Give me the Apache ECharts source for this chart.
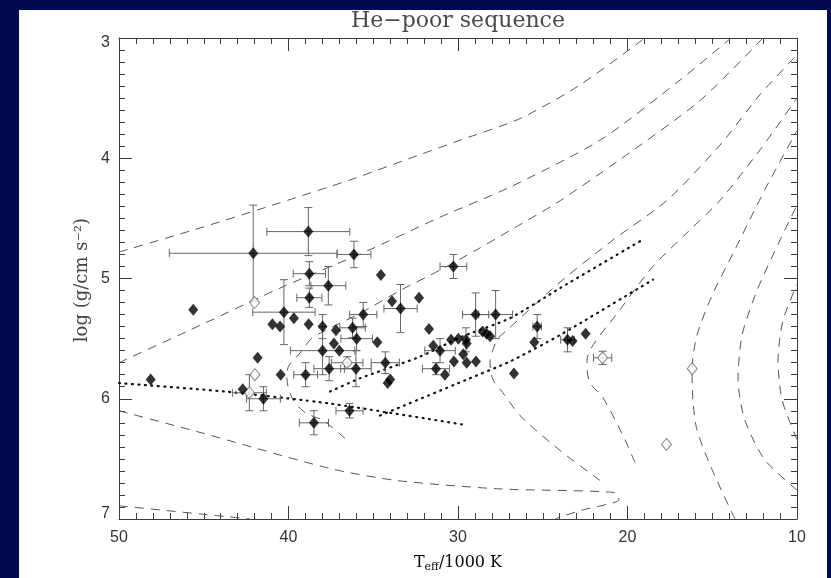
<!DOCTYPE html>
<html>
<head>
<meta charset="utf-8">
<script src="https://cdn.jsdelivr.net/npm/echarts@6/dist/echarts.min.js"></script>
<style>
html,body{margin:0;padding:0;background:#010a4e;width:831px;height:578px;overflow:hidden;}
#chart{position:absolute;left:19px;top:10px;width:808px;height:568px;background:#ffffff;}
</style>
</head>
<body>
<div id="chart"></div>
<script>
// ---- axis ranges / ticks ----
const xRange = [10, 50];          // Teff / 1000 K (inverted)
const yRange = [3, 7];            // log g (inverted)
const xTickStep = 10;
const yTickStep = 1;

// ---- stars: [Teff, log g, err Teff, err log g] ----
const filledStars = [
  [48.13, 5.84, 0, 0], [45.62, 5.26, 0, 0], [42.08, 4.79, 4.95, 0.40],
  [38.83, 4.61, 2.45, 0.20], [36.14, 4.80, 1.00, 0.11], [38.77, 4.96, 0.95, 0.10],
  [37.65, 5.06, 1.03, 0.16], [38.77, 5.16, 0.74, 0.08], [40.27, 5.28, 1.84, 0.27],
  [34.55, 4.97, 0, 0], [30.27, 4.90, 0.79, 0.10], [33.89, 5.19, 0, 0],
  [32.30, 5.16, 0, 0], [33.39, 5.25, 0.98, 0.20], [35.59, 5.30, 0.80, 0.10],
  [40.95, 5.38, 0, 0], [40.50, 5.40, 0, 0], [39.68, 5.33, 0, 0],
  [38.81, 5.38, 0, 0], [37.99, 5.40, 0, 0.10], [37.20, 5.43, 0, 0],
  [36.22, 5.41, 0.75, 0.08], [35.98, 5.50, 0.93, 0.10], [34.76, 5.53, 0, 0],
  [37.32, 5.54, 0, 0], [37.00, 5.60, 0, 0], [37.99, 5.60, 1.90, 0.20],
  [36.02, 5.75, 0.90, 0.15], [37.60, 5.75, 0.90, 0.10], [38.99, 5.80, 0.70, 0.10],
  [40.46, 5.80, 0, 0], [34.29, 5.70, 0.83, 0.09], [34.00, 5.84, 0, 0],
  [34.15, 5.87, 0, 0], [31.71, 5.42, 0, 0], [31.46, 5.56, 0, 0],
  [31.06, 5.60, 0.90, 0.10], [31.30, 5.75, 0.80, 0.05], [30.77, 5.80, 0, 0],
  [30.41, 5.51, 0, 0], [29.98, 5.50, 0, 0], [29.53, 5.51, 0, 0.10],
  [29.49, 5.54, 0, 0], [29.69, 5.63, 0, 0], [30.24, 5.69, 0, 0],
  [29.49, 5.70, 0, 0], [28.94, 5.69, 0, 0], [28.96, 5.30, 0.77, 0.18],
  [27.78, 5.30, 1.00, 0.20], [28.55, 5.44, 0, 0], [28.31, 5.46, 0, 0],
  [28.11, 5.48, 0, 0], [25.33, 5.40, 0.25, 0.10], [25.50, 5.53, 0, 0],
  [23.54, 5.51, 0.40, 0.10], [23.24, 5.52, 0, 0], [22.47, 5.46, 0, 0],
  [26.70, 5.79, 0, 0], [42.70, 5.92, 0, 0], [41.48, 6.00, 1.00, 0.10],
  [38.50, 6.20, 0.86, 0.10], [36.40, 6.10, 0.80, 0.06], [41.82, 5.66, 0, 0]
];
const openStars = [
  [42.00, 5.20, 0, 0], [41.98, 5.80, 0, 0], [42.31, 5.95, 1.00, 0.15],
  [36.54, 5.70, 0.93, 0.05], [21.47, 5.66, 0.54, 0.055], [16.18, 5.75, 0, 0],
  [17.70, 6.38, 0, 0]
];

// ---- evolutionary tracks (dashed): [Teff, log g] ----
const track1 = [[50,4.78],[45.22,4.58],[40.5,4.37],[36.37,4.18],[32.24,3.97],[29.88,3.85],[26.34,3.67],[22.8,3.39],[18.97,3.0]];
const track2 = [[50,5.70],[45.22,5.39],[40.5,5.08],[35.19,4.76],[31.06,4.49],[26.93,4.24],[21.62,3.85],[16.9,3.35],[13.89,3.0]];
const track3 = [[36.67,6.33],[37.96,6.18],[38.97,6.12],[39.73,6.01],[40.09,5.84],[40.03,5.74],[39.32,5.62],[38.56,5.49],[35.78,5.29],[33.42,5.10],[31.06,4.93],[28.88,4.76],[26.93,4.60],[24.16,4.37],[20.44,4.01],[15.72,3.52],[12.01,3.0]];
const track4 = [[21.62,6.68],[23.98,6.43],[26.34,6.14],[27.35,5.95],[27.94,5.84],[28.11,5.70],[27.70,5.51],[27.11,5.43],[23.98,5.03],[20.86,4.68],[17.67,4.35],[14.54,3.89],[12.18,3.47],[10.0,3.14]];
const track5 = [[19.56,6.53],[20.15,6.34],[21.45,5.99],[22.21,5.87],[22.39,5.74],[22.39,5.68],[20.44,5.26],[18.5,4.90],[16.49,4.62],[14.54,4.35],[12.18,3.93],[10.0,3.50]];
const track6 = [[13.66,7.0],[15.01,6.59],[15.9,6.26],[16.14,6.01],[16.19,5.75],[15.9,5.47],[15.01,5.14],[13.66,4.76],[11.89,4.26],[10.0,3.77]];
const track7 = [[50,6.10],[45.22,6.28],[37.55,6.58],[33.6,6.68],[27.52,6.75],[20.74,6.78],[20.5,6.84],[21.27,6.88],[22.8,6.93],[24.28,7.0]];
const track8 = [[50,6.89],[42.27,7.0]];
const track9 = [[10.0,6.76],[11.89,6.51],[13.07,6.18],[13.48,5.84],[13.24,5.47],[12.36,5.10],[11.0,4.68],[10.0,4.39]];
const track10 = [[10.0,6.34],[10.88,6.01],[11.12,5.68],[10.83,5.35],[10.0,5.05]];

// ---- dotted reference sequences ----
const heMainSeq = [[50,5.87],[43.75,5.94],[37.55,6.04],[29.47,6.22]];
const taehb = [[37.55,5.94],[35.78,5.83],[32.24,5.65],[29.88,5.49],[26.93,5.33],[23.98,5.08],[19.26,4.69]];
const zaehb = [[34.6,6.14],[29.47,5.84],[26.93,5.69],[23.98,5.47],[18.5,5.01]];

const titleText = 'He\u2212poor sequence';
const yName = 'log (g/cm s\u207B\u00B2)';

const chart = echarts.init(document.getElementById('chart'), null, {renderer: 'canvas'});

const axisCol = '#3c3c3c';
const labelFont = 'Liberation Sans';
function xAx(pos, labels) {
  return {
    type: 'value', position: pos, min: xRange[0], max: xRange[1], interval: xTickStep, inverse: true,
    axisLine: {show: true, onZero: false, lineStyle: {color: axisCol, width: 1}},
    axisTick: {show: true, inside: true, length: 13, lineStyle: {color: axisCol, width: 1}},
    minorTick: {show: true, splitNumber: 10, length: 6, lineStyle: {color: axisCol, width: 1}},
    splitLine: {show: false},
    axisLabel: {show: labels, margin: 11, fontSize: 16, color: '#333', fontFamily: labelFont}
  };
}
function yAx(pos, labels) {
  return {
    type: 'value', position: pos, min: yRange[0], max: yRange[1], interval: yTickStep, inverse: true,
    axisLine: {show: true, onZero: false, lineStyle: {color: axisCol, width: 1}},
    axisTick: {show: true, inside: true, length: 13, lineStyle: {color: axisCol, width: 1}},
    minorTick: {show: true, splitNumber: 10, length: 6, lineStyle: {color: axisCol, width: 1}},
    splitLine: {show: false},
    axisLabel: {show: labels, margin: 9, fontSize: 16, color: '#333', fontFamily: labelFont,
      formatter: function (v) {
        if (v === yRange[0]) return '{t|' + v + '}';
        if (v === yRange[1]) return '{b|' + v + '}';
        return '{n|' + v + '}';
      },
      rich: {
        t: {fontSize: 16, fontFamily: labelFont, color: '#333', padding: [10, 0, 0, 0]},
        b: {fontSize: 16, fontFamily: labelFont, color: '#333', padding: [0, 0, 10, 0]},
        n: {fontSize: 16, fontFamily: labelFont, color: '#333'}
      }}
  };
}

function dashed(data) {
  return {type: 'line', data: data, showSymbol: false, symbol: 'none', smooth: 0.25, silent: true, z: 1,
    lineStyle: {color: '#555', width: 1, type: [9, 7]}};
}
function dotted(data) {
  return {type: 'line', data: data, showSymbol: false, symbol: 'none', smooth: 0.2, silent: true, z: 1,
    lineStyle: {color: '#111', width: 2.2, type: [1, 5.5], cap: 'round'}};
}

function renderErr(params, api) {
  const T = api.value(0), g = api.value(1), eT = api.value(2), eg = api.value(3);
  const cap = 4;
  const ch = [];
  const st = {stroke: '#666', lineWidth: 1};
  if (eT > 0) {
    const a = api.coord([T + eT, g]), b = api.coord([T - eT, g]);
    ch.push({type: 'line', shape: {x1: a[0], y1: a[1], x2: b[0], y2: b[1]}, style: st});
    ch.push({type: 'line', shape: {x1: a[0], y1: a[1] - cap, x2: a[0], y2: a[1] + cap}, style: st});
    ch.push({type: 'line', shape: {x1: b[0], y1: b[1] - cap, x2: b[0], y2: b[1] + cap}, style: st});
  }
  if (eg > 0) {
    const a = api.coord([T, g - eg]), b = api.coord([T, g + eg]);
    ch.push({type: 'line', shape: {x1: a[0], y1: a[1], x2: b[0], y2: b[1]}, style: st});
    ch.push({type: 'line', shape: {x1: a[0] - cap, y1: a[1], x2: a[0] + cap, y2: a[1]}, style: st});
    ch.push({type: 'line', shape: {x1: b[0] - cap, y1: b[1], x2: b[0] + cap, y2: b[1]}, style: st});
  }
  return {type: 'group', children: ch};
}

const errData = filledStars.concat(openStars).filter(d => d[2] > 0 || d[3] > 0);

chart.setOption({
  animation: false,
  backgroundColor: '#ffffff',
  grid: {left: 100, top: 28, right: 30, bottom: 59, containLabel: false},
  xAxis: [xAx('bottom', true), xAx('top', false)],
  yAxis: [yAx('left', true), yAx('right', false)],
  graphic: [
    {type: 'text', silent: true, x: 439, y: 11,
      style: {text: titleText, x: 0, y: 0, align: 'center', verticalAlign: 'middle',
        font: '22px "DejaVu Serif"', fill: '#4a4a4a'}},
    {type: 'text', silent: true, rotation: Math.PI / 2, x: 63, y: 270,
      style: {text: yName, x: 0, y: 0, align: 'center', verticalAlign: 'middle',
        font: '18px "DejaVu Serif"', fill: '#444'}},
    {type: 'text', silent: true, x: 439, y: 553,
      style: {text: '{a|T}{b|eff}{a|/1000 K}', x: 0, y: 0, align: 'center', verticalAlign: 'middle',
        rich: {a: {fontSize: 16, fontFamily: 'DejaVu Serif', color: '#444'},
               b: {fontSize: 11, fontFamily: 'DejaVu Serif', color: '#444', padding: [8, 0, 0, 0]}}}}
  ],
  series: [
    dashed(track1), dashed(track2), dashed(track3), dashed(track4),
    dashed(track5), dashed(track6), dashed(track7), dashed(track8),
    dashed(track9), dashed(track10),
    dotted(heMainSeq), dotted(taehb), dotted(zaehb),
    {type: 'custom', renderItem: renderErr, data: errData, z: 3, silent: true,
      encode: {x: 0, y: 1}},
    {type: 'scatter', data: openStars.map(d => [d[0], d[1]]), symbol: 'diamond', symbolSize: [10, 12], z: 4,
      itemStyle: {color: '#ffffff', borderColor: '#666', borderWidth: 1}},
    {type: 'scatter', data: filledStars.map(d => [d[0], d[1]]), symbol: 'diamond', symbolSize: [10, 12], z: 5,
      itemStyle: {color: '#000000'}}
  ]
});
</script>
</body>
</html>
